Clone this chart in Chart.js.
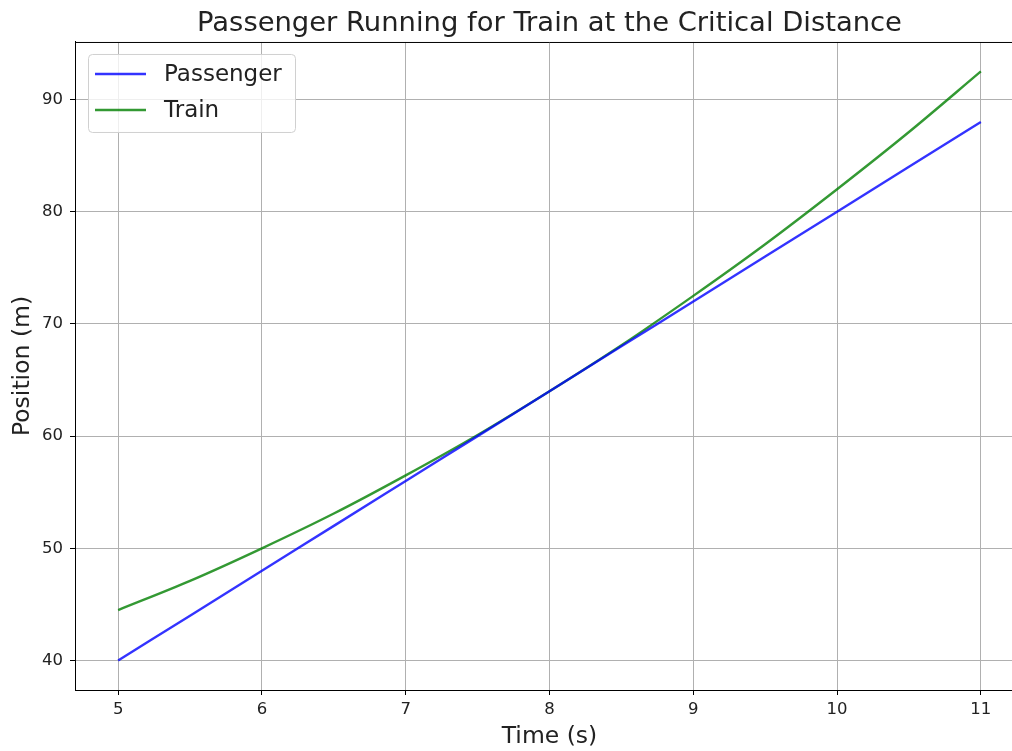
<!DOCTYPE html>
<html>
<head>
<meta charset="utf-8">
<script src="https://cdn.jsdelivr.net/npm/chart.js@4/dist/chart.umd.min.js"></script>
<style>
  html, body { margin: 0; padding: 0; background: #fff; overflow: hidden; }
  #wrap { width: 1040px; height: 751px; }
</style>
</head>
<body>
<div id="wrap"><canvas id="myChart" width="1040" height="751"></canvas></div>
<script>
const times = [5, 5.5, 6, 6.5, 7, 7.5, 8, 8.5, 9, 9.5, 10, 10.5, 11];
const passenger = [40, 44, 48, 52, 56, 60, 64, 68, 72, 76, 80, 84, 88];
const train = [44.5, 47.1, 50.0, 53.1, 56.5, 60.1, 64.0, 68.1, 72.5, 77.1, 82.0, 87.1, 92.5];
const xTicks = [5, 6, 7, 8, 9, 10, 11];
const yTicks = [40, 50, 60, 70, 80, 90];

const font = "'DejaVu Sans', sans-serif";

const toPoints = (ys) => times.map((t, i) => ({ x: t, y: ys[i] }));

const data = {
  datasets: [
    {
      label: "Passenger",
      data: toPoints(passenger),
      borderColor: "rgba(0, 0, 255, 0.8)",
      backgroundColor: "rgba(0, 0, 255, 0.8)",
    },
    {
      label: "Train",
      data: toPoints(train),
      borderColor: "rgba(0, 128, 0, 0.8)",
      backgroundColor: "rgba(0, 128, 0, 0.8)",
    },
  ],
};

// title centred over the plot area, top spine, legend box in the upper left
const framePlugin = {
  id: "frame",
  afterLayout(chart) {
    const tb = chart.titleBlock;
    if (tb) {
      tb.left = chart.chartArea.left;
      tb.right = chart.chartArea.right;
      tb.width = tb.right - tb.left;
    }
  },
  afterDraw(chart) {
    const { ctx, chartArea } = chart;
    ctx.save();
    ctx.strokeStyle = "#000";
    ctx.lineWidth = 1;
    ctx.beginPath();
    ctx.moveTo(chartArea.left, chartArea.top + 0.5);
    ctx.lineTo(chartArea.right, chartArea.top + 0.5);
    ctx.stroke();

    const x0 = chartArea.left + 13;
    const y0 = chartArea.top + 12;
    ctx.beginPath();
    ctx.roundRect(x0 + 0.5, y0 + 0.5, 207, 78, 4);
    ctx.fillStyle = "rgba(255, 255, 255, 0.8)";
    ctx.fill();
    ctx.strokeStyle = "#d0d0d0";
    ctx.stroke();

    ctx.font = "23px " + font;
    ctx.textBaseline = "middle";
    chart.data.datasets.forEach((ds, i) => {
      const y = y0 + 20 + i * 36;
      ctx.beginPath();
      ctx.moveTo(x0 + 7, y);
      ctx.lineTo(x0 + 58, y);
      ctx.strokeStyle = ds.borderColor;
      ctx.lineWidth = 2.4;
      ctx.stroke();
      ctx.fillStyle = "#222";
      ctx.fillText(ds.label, x0 + 76, y + 1);
    });
    ctx.restore();
  },
};

const config = {
  type: "line",
  data: data,
  options: {
    responsive: false,
    animation: false,
    layout: { padding: { right: 16 } },
    elements: {
      point: { radius: 0 },
      line: { borderWidth: 2.4, cubicInterpolationMode: "monotone" },
    },
    scales: {
      x: {
        type: "linear",
        min: 4.7,
        max: 11.3,
        afterBuildTicks: (scale) => { scale.ticks = xTicks.map((v) => ({ value: v })); },
        afterFit: (scale) => { scale.height = 61; },
        grid: { color: "#b0b0b0", tickColor: "#000", tickLength: 5 },
        border: { color: "#000" },
        ticks: { color: "#222", font: { family: font, size: 16.5 }, padding: 5 },
        title: {
          display: true,
          text: "Time (s)",
          color: "#222",
          font: { family: font, size: 23.5 },
          padding: { top: 0, bottom: 0 },
        },
      },
      y: {
        min: 37.375,
        max: 95.125,
        afterBuildTicks: (scale) => { scale.ticks = yTicks.map((v) => ({ value: v })); },
        afterFit: (scale) => { scale.width = 75; },
        grid: { color: "#b0b0b0", tickColor: "#000", tickLength: 5 },
        border: { color: "#000" },
        ticks: { color: "#222", font: { family: font, size: 16.5 }, padding: 7 },
        title: {
          display: true,
          text: "Position (m)",
          color: "#222",
          font: { family: font, size: 23.5 },
          padding: { top: 9, bottom: 0 },
        },
      },
    },
    plugins: {
      legend: { display: false },
      tooltip: { enabled: false },
      title: {
        display: true,
        text: "Passenger Running for Train at the Critical Distance",
        color: "#222",
        font: { family: font, size: 27.4, weight: "normal" },
        padding: { top: 7.5, bottom: 1.6 },
      },
    },
  },
  plugins: [framePlugin],
};

const myChart = new Chart(document.getElementById("myChart"), config);
</script>
</body>
</html>
